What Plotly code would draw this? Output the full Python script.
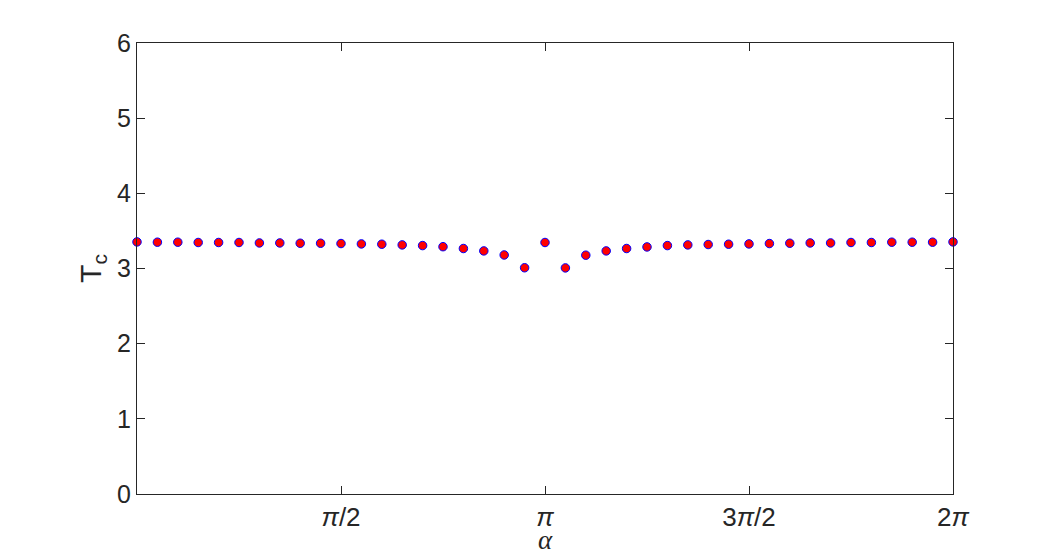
import numpy as np
import plotly.graph_objects as go

n_steps = 40
alpha = [np.pi * k / 20 for k in range(n_steps + 1)]
tc_values = [3.354, 3.350, 3.350, 3.346, 3.346, 3.346, 3.340, 3.340, 3.336, 3.336,
             3.332, 3.327, 3.323, 3.314, 3.305, 3.290, 3.266, 3.234, 3.180, 3.010,
             3.346,
             3.008, 3.177, 3.234, 3.266, 3.287, 3.305, 3.314, 3.319, 3.323, 3.327,
             3.332, 3.336, 3.340, 3.340, 3.346, 3.346, 3.350, 3.350, 3.350, 3.354]
x_tickvals = [np.pi / 2, np.pi, 3 * np.pi / 2, 2 * np.pi]
x_ticktext = ["<i>π</i>/2", "<i>π</i>", "3<i>π</i>/2", "2<i>π</i>"]
y_tickvals = [0, 1, 2, 3, 4, 5, 6]

axis_color = "#262626"

fig = go.Figure()
fig.add_trace(go.Scatter(
    x=alpha, y=tc_values, mode="markers",
    marker=dict(size=8.5, color="#ff0000", line=dict(color="#0000ff", width=1)),
    cliponaxis=False, showlegend=False,
))

fig.add_annotation(
    text="<i>α</i>", xref="paper", yref="paper", x=0.5, y=0,
    xanchor="center", yanchor="bottom", yshift=-62, showarrow=False,
    borderpad=0,
    font=dict(size=27, family="Liberation Serif, DejaVu Serif, serif", color=axis_color),
)

fig.update_layout(
    width=1046, height=550,
    margin=dict(l=129, r=101, t=35, b=64, autoexpand=False),
    paper_bgcolor="white", plot_bgcolor="white",
    font=dict(family="Liberation Sans, Arial, sans-serif", color=axis_color, size=22),
    xaxis=dict(
        range=[0, 2 * np.pi], tickvals=x_tickvals, ticktext=x_ticktext,
        ticks="inside", ticklen=8, tickwidth=1, tickcolor=axis_color,
        showline=True, linecolor=axis_color, linewidth=1, mirror="ticks",
        showgrid=False, zeroline=False, automargin=False,
        tickfont=dict(size=26),
    ),
    yaxis=dict(
        range=[0, 6], tickvals=y_tickvals,
        ticks="inside", ticklen=8, tickwidth=1, tickcolor=axis_color,
        showline=True, linecolor=axis_color, linewidth=1, mirror="ticks",
        showgrid=False, zeroline=False, automargin=False,
        tickfont=dict(size=25),
        title=dict(text="T<sub>c</sub>", standoff=6, font=dict(size=30)),
    ),
)

fig.write_html("out.html")
